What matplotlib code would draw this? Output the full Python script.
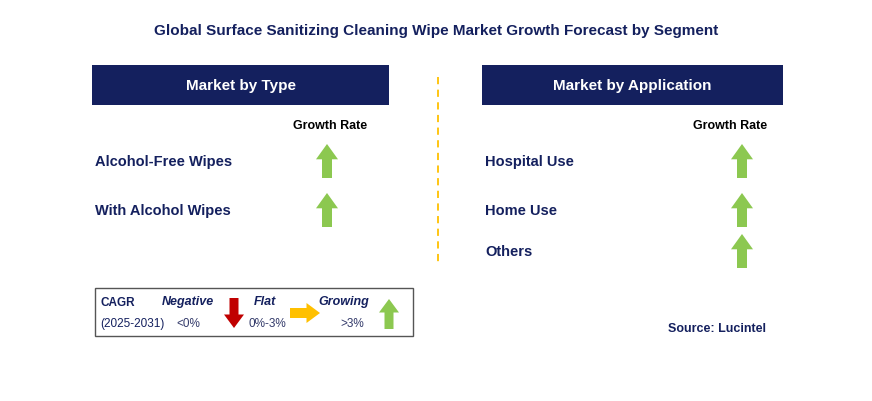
import matplotlib
matplotlib.use("Agg")
import matplotlib.pyplot as plt
from matplotlib.patches import Rectangle, Polygon

title = "Global Surface Sanitizing Cleaning Wipe Market Growth Forecast by Segment"
type_labels = ["Alcohol-Free Wipes", "With Alcohol Wipes"]
type_trend = ["up", "up"]
app_labels = ["Hospital Use", "Home Use", "Others"]
app_trend = ["up", "up", "up"]

NAVY = "#14205e"
GREEN = "#8cc850"
RED = "#c00000"
YELLOW = "#ffc000"
FONT = "Liberation Sans"

fig = plt.figure(figsize=(8.72, 4.02), dpi=100)
ax = fig.add_axes([0, 0, 1, 1])
ax.set_xlim(0, 872); ax.set_ylim(402, 0); ax.axis("off")

def arrow(cx, cy, direction, color, w=22, h=34, shaft=10):
    hh = h * 0.45
    if direction == "up":
        pts = [(cx - shaft/2, cy + h/2), (cx - shaft/2, cy - h/2 + hh), (cx - w/2, cy - h/2 + hh),
               (cx, cy - h/2), (cx + w/2, cy - h/2 + hh), (cx + shaft/2, cy - h/2 + hh), (cx + shaft/2, cy + h/2)]
    elif direction == "down":
        pts = [(cx - shaft/2, cy - h/2), (cx - shaft/2, cy + h/2 - hh), (cx - w/2, cy + h/2 - hh),
               (cx, cy + h/2), (cx + w/2, cy + h/2 - hh), (cx + shaft/2, cy + h/2 - hh), (cx + shaft/2, cy - h/2)]
    else:  # right
        pts = [(cx - h/2, cy - shaft/2), (cx + h/2 - hh, cy - shaft/2), (cx + h/2 - hh, cy - w/2),
               (cx + h/2, cy), (cx + h/2 - hh, cy + w/2), (cx + h/2 - hh, cy + shaft/2), (cx - h/2, cy + shaft/2)]
    ax.add_patch(Polygon(pts, closed=True, color=color, lw=0))

colors = {"up": GREEN, "down": RED, "right": YELLOW}

ax.text(436, 31, title, ha="center", va="center", fontsize=11, fontweight="bold", color=NAVY, family=FONT)

for x0, x1, head, labels, trends, ax_x, gr_x, ys in [
    (92, 389, "Market by Type", type_labels, type_trend, 327, 330, [162, 211]),
    (482, 783, "Market by Application", app_labels, app_trend, 742, 730, [162, 211, 252]),
]:
    ax.add_patch(Rectangle((x0, 66), x1 - x0, 40, color=NAVY, lw=0))
    ax.text((x0 + x1) / 2, 86, head, ha="center", va="center", fontsize=11, fontweight="bold", color="white", family=FONT)
    ax.text(gr_x, 126, "Growth Rate", ha="center", va="center", fontsize=9, fontweight="bold", color="black", family=FONT)
    for lab, tr, y in zip(labels, trends, ys):
        ax.text(x0 + 3, y, lab, ha="left", va="center", fontsize=10.5, fontweight="bold", color=NAVY, family=FONT)
        arrow(ax_x, y, tr, colors[tr])

ax.plot([438, 438], [78, 265], ls=(0, (4, 3)), color=YELLOW, lw=1.3)

ax.add_patch(Rectangle((95, 289), 318, 48, fill=False, ec="#555555", lw=1))
ax.text(100, 303, "CAGR", fontsize=8.5, fontweight="bold", color=NAVY, va="center", family=FONT)
ax.text(100, 324, "(2025-2031)", fontsize=8.5, color=NAVY, va="center", family=FONT)
ax.text(188, 302, "Negative", fontsize=9, fontweight="bold", style="italic", color=NAVY, ha="center", va="center", family=FONT)
ax.text(188, 324, "<0%", fontsize=8.5, color="#333a6a", ha="center", va="center", family=FONT)
arrow(234, 314, "down", RED, w=20, h=30, shaft=9)
ax.text(265, 302, "Flat", fontsize=9, fontweight="bold", style="italic", color=NAVY, ha="center", va="center", family=FONT)
ax.text(267, 324, "0%-3%", fontsize=8.5, color="#333a6a", ha="center", va="center", family=FONT)
arrow(305, 314, "right", YELLOW, w=20, h=30, shaft=10)
ax.text(344, 302, "Growing", fontsize=9, fontweight="bold", style="italic", color=NAVY, ha="center", va="center", family=FONT)
ax.text(352, 324, ">3%", fontsize=8.5, color="#333a6a", ha="center", va="center", family=FONT)
arrow(389, 315, "up", GREEN, w=20, h=30, shaft=9)

ax.text(717, 329, "Source: Lucintel", ha="center", va="center", fontsize=9, fontweight="bold", color=NAVY, family=FONT)

fig.savefig("out.png", dpi=100)
